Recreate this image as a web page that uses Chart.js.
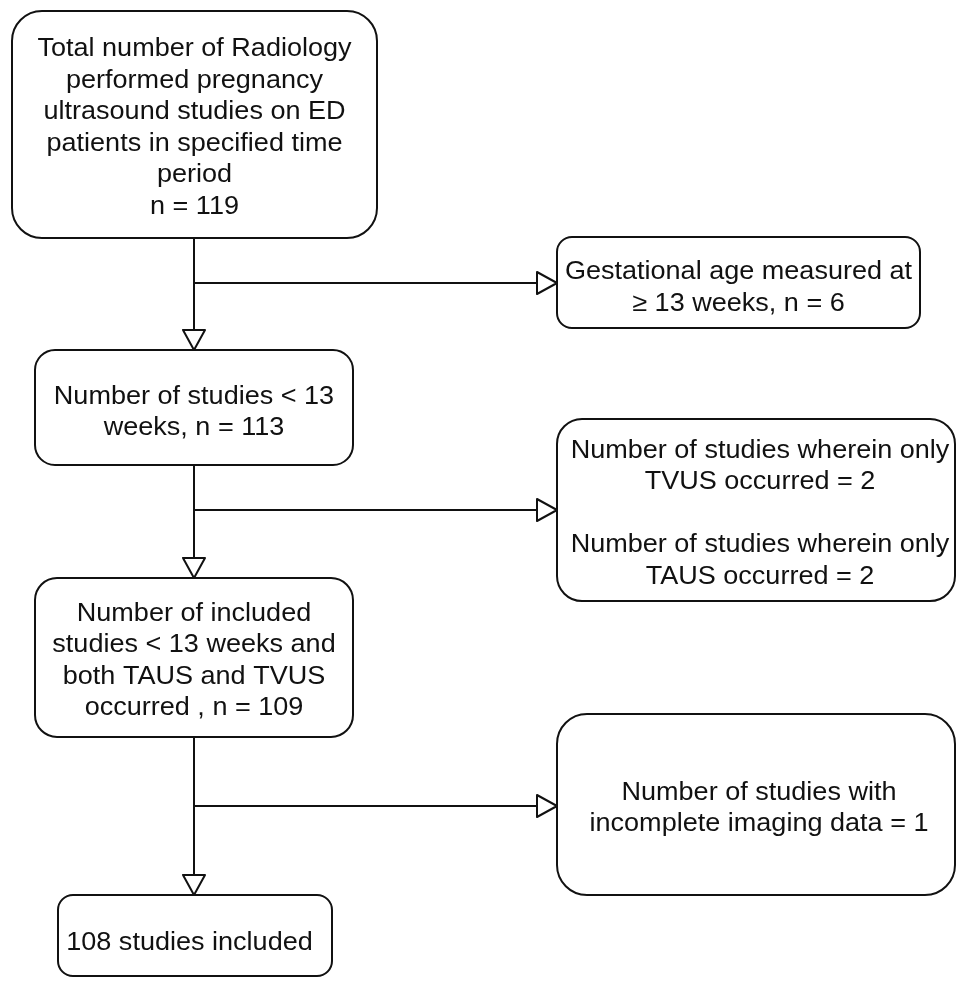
<!DOCTYPE html>
<html>
<head>
<meta charset="utf-8">
<script src="https://cdn.jsdelivr.net/npm/chart.js@4.4.1/dist/chart.umd.min.js"></script>
<style>
    html, body { margin: 0; padding: 0; background: #ffffff; }
    #flow-canvas { display: block; }
</style>
</head>
<body>
<canvas id="flow-canvas" width="956" height="984"></canvas>
<script>
/* ############ */
/* ### Data ### */
/* ############ */

// Study counts at each step
const COUNTS = [119, 6, 113, 2, 2, 109, 1, 108];

// Box texts, one array of lines per box
const BOX_TEXT = [
    ['Total number of Radiology', 'performed pregnancy', 'ultrasound studies on ED', 'patients in specified time', 'period', 'n = ' + COUNTS[0]],
    ['Gestational age measured at', '\u2265 13 weeks, n = ' + COUNTS[1]],
    ['Number of studies < 13', 'weeks, n = ' + COUNTS[2]],
    ['Number of studies wherein only', 'TVUS occurred = ' + COUNTS[3], '', 'Number of studies wherein only', 'TAUS occurred = ' + COUNTS[4]],
    ['Number of included', 'studies < 13 weeks and', 'both TAUS and TVUS', 'occurred , n = ' + COUNTS[5]],
    ['Number of studies with', 'incomplete imaging data = ' + COUNTS[6]],
    [COUNTS[7] + ' studies included']
];

/* ############## */
/* ### Layout ### */
/* ############## */

// Box frames in diagram units: [left, top, right, bottom, corner radius, text dx, text dy]
const BOXES = [
    [12, 11, 377, 238, 30, 0, 3.5],
    [557, 237, 920, 328, 15, 0, 5.5],
    [35, 350, 353, 465, 20, 0, 5],
    [557, 419, 955, 601, 25, 4, 3.5],
    [35, 578, 353, 737, 22, 0, 3.5],
    [557, 714, 955, 895, 30, 3, 4],
    [58, 895, 332, 976, 15, -5.5, 7.5]
];

// Connectors: trunk x, from y, to y (arrow tip), branch y, branch end x (arrow tip)
const LINKS = [
    [194, 238, 350, 283, 557],
    [194, 465, 578, 510, 557],
    [194, 737, 895, 806, 557]
];

const FONT_SIZE = 26;
const TEXT_STRETCH = 1.04;
const LINE_HEIGHT = 31.5;
const INK = '#111111';

/* ##################### */
/* ### Drawing tools ### */
/* ##################### */

function roundBox(ctx, x1, y1, x2, y2, r) {
    ctx.beginPath();
    ctx.moveTo(x1 + r, y1);
    ctx.lineTo(x2 - r, y1);
    ctx.arcTo(x2, y1, x2, y1 + r, r);
    ctx.lineTo(x2, y2 - r);
    ctx.arcTo(x2, y2, x2 - r, y2, r);
    ctx.lineTo(x1 + r, y2);
    ctx.arcTo(x1, y2, x1, y2 - r, r);
    ctx.lineTo(x1, y1 + r);
    ctx.arcTo(x1, y1, x1 + r, y1, r);
    ctx.closePath();
    ctx.fill();
    ctx.stroke();
}

// Open triangle arrow head, tip at (x, y), pointing along (dx, dy)
function arrowHead(ctx, x, y, dx, dy) {
    let len = 20, half = 11;
    let bx = x - dx * len, by = y - dy * len;
    ctx.beginPath();
    ctx.moveTo(x, y);
    ctx.lineTo(bx - dy * half, by + dx * half);
    ctx.lineTo(bx + dy * half, by - dx * half);
    ctx.closePath();
    ctx.fillStyle = '#ffffff';
    ctx.fill();
    ctx.stroke();
}

const flowPlugin = {
    id: 'flow',
    afterDraw(chart) {
        const ctx = chart.ctx;
        const sx = chart.scales.x, sy = chart.scales.y;
        const px = v => sx.getPixelForValue(v);
        const py = v => sy.getPixelForValue(v);

        ctx.save();
        ctx.strokeStyle = INK;
        ctx.lineWidth = 2;
        ctx.lineJoin = 'round';

        // Connectors
        LINKS.forEach(l => {
            let x = px(l[0]);
            ctx.beginPath();
            ctx.moveTo(x, py(l[1]));
            ctx.lineTo(x, py(l[2]) - 20);
            ctx.moveTo(x, py(l[3]));
            ctx.lineTo(px(l[4]) - 20, py(l[3]));
            ctx.stroke();
            arrowHead(ctx, x, py(l[2]), 0, 1);
            arrowHead(ctx, px(l[4]), py(l[3]), 1, 0);
        });

        // Boxes and texts
        BOXES.forEach((b, i) => {
            let x1 = px(b[0]), y1 = py(b[1]), x2 = px(b[2]), y2 = py(b[3]);
            ctx.fillStyle = '#ffffff';
            roundBox(ctx, x1, y1, x2, y2, b[4]);

            let lines = BOX_TEXT[i];
            let cx = (x1 + x2) / 2 + b[5];
            let cy = (y1 + y2) / 2 + b[6];
            let top = cy - (lines.length - 1) * LINE_HEIGHT / 2;
            ctx.fillStyle = INK;
            ctx.font = FONT_SIZE + "px 'Liberation Sans', Arial, sans-serif";
            ctx.textAlign = 'center';
            ctx.textBaseline = 'middle';
            lines.forEach((t, j) => {
                ctx.save();
                ctx.translate(cx, top + j * LINE_HEIGHT);
                ctx.scale(TEXT_STRETCH, 1);
                ctx.fillText(t, 0, 0);
                ctx.restore();
            });
        });

        ctx.restore();
    }
};

/* ############# */
/* ### Chart ### */
/* ############# */

new Chart(document.getElementById('flow-canvas').getContext('2d'), {
    type: 'scatter',
    data: {
        datasets: [{
            data: BOXES.map(b => ({ x: (b[0] + b[2]) / 2, y: (b[1] + b[3]) / 2 })),
            pointRadius: 0,
            showLine: false
        }]
    },
    options: {
        responsive: false,
        animation: false,
        layout: { padding: 0 },
        scales: {
            x: { type: 'linear', min: 0, max: 956, display: false },
            y: { type: 'linear', min: 0, max: 984, reverse: true, display: false }
        },
        plugins: {
            legend: { display: false },
            tooltip: { enabled: false }
        }
    },
    plugins: [flowPlugin]
});
</script>
</body>
</html>
